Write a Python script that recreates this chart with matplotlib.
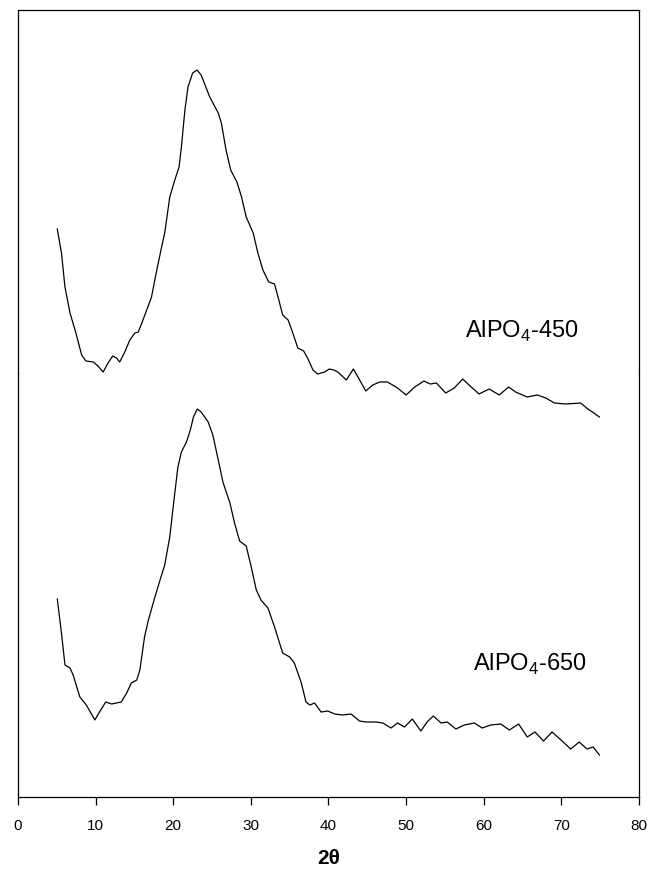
import numpy as np
import matplotlib
matplotlib.use("Agg")
import matplotlib.pyplot as plt

plt.rcParams['font.family'] = ['Liberation Sans', 'DejaVu Sans']
plt.rcParams['mathtext.fontset'] = 'custom'
plt.rcParams['mathtext.rm'] = 'Liberation Sans'

# AlPO4-450 pattern (2theta, intensity a.u.)
two_theta_450 = [5.06, 5.6, 6.05, 6.7, 7.46, 8.2, 8.75, 9.7, 10.3, 10.97, 11.6, 12.2, 12.7, 13.1,
                 13.76, 14.4, 15.05, 15.5, 16.1, 17.2, 17.8, 18.5, 18.9, 19.55, 20.2, 20.75, 21.05,
                 21.5, 21.9, 22.5, 23.06, 23.6, 24.7, 25.8, 26.2, 26.8, 27.4, 28.2, 28.8, 29.4, 30.3,
                 30.9, 31.55, 32.3, 33.05, 33.5, 34.1, 34.8, 35.4, 36.05, 36.8, 37.3, 38.0, 38.6,
                 39.5, 40.1, 40.7, 41.2, 42.3, 43.2, 43.8, 44.8, 45.7, 46.6, 47.6, 48.9, 50.0, 51.1,
                 52.3, 53.1, 53.9, 55.1, 56.2, 57.3, 58.1, 59.4, 60.7, 62.0, 63.2, 64.1, 65.6, 66.9,
                 68.0, 69.1, 70.6, 72.5, 73.4, 74.0, 74.9]
intensity_450 = [201, 177, 143, 117, 97, 75, 69, 68, 64, 58, 67, 74, 72, 68,
                 78, 90, 97, 98, 110, 133, 157, 183, 197, 233, 250, 263, 283,
                 320, 343, 357, 360, 355, 333, 317, 307, 280, 260, 248, 233, 213, 197,
                 177, 160, 148, 146, 133, 115, 110, 97, 82, 79, 72, 60, 56,
                 58, 61, 60, 58, 50, 61, 53, 39, 45, 48, 48, 42, 35, 43,
                 49, 46, 47, 37, 42, 51, 45, 36, 41, 35, 43, 38, 33, 35,
                 32, 27, 26, 27, 21, 18, 13]

# AlPO4-650 pattern
two_theta_650 = [5.06, 5.6, 6.05, 6.7, 7.1, 7.97, 8.8, 9.9, 10.5, 11.3, 12.05, 13.3, 14.0, 14.6,
                 15.3, 15.7, 16.3, 16.8, 17.6, 18.3, 18.9, 19.55, 20.2, 20.6, 21.05, 21.7, 22.2,
                 22.6, 23.1, 23.6, 24.5, 25.1, 25.8, 26.4, 27.3, 27.9, 28.55, 29.4, 30.05, 30.7,
                 31.3, 32.2, 33.05, 34.1, 35.0, 35.6, 36.5, 37.1, 37.6, 38.2, 39.05, 39.9, 40.8,
                 41.8, 42.9, 44.0, 44.8, 46.1, 47.0, 48.05, 48.9, 49.8, 50.8, 51.9, 52.7, 53.5,
                 54.5, 55.3, 56.4, 57.5, 58.8, 59.8, 60.9, 62.2, 63.3, 64.5, 65.6, 66.6, 67.7,
                 68.8, 70.1, 71.2, 72.3, 73.3, 74.1, 74.9]
intensity_650 = [198, 164, 132, 129, 122, 100, 92, 77, 85, 95, 93, 95, 104, 114,
                 117, 127, 160, 177, 199, 217, 232, 260, 304, 330, 345, 355, 367,
                 380, 388, 385, 375, 362, 337, 315, 294, 274, 256, 251, 230, 207,
                 197, 189, 170, 144, 140, 134, 114, 95, 92, 94, 85, 86, 83,
                 82, 83, 76, 75, 75, 74, 69, 74, 70, 78, 66, 75, 81,
                 74, 75, 68, 72, 74, 69, 72, 73, 67, 73, 60, 65, 56,
                 65, 56, 48, 55, 48, 50, 42]

x_ticks = [0, 10, 20, 30, 40, 50, 60, 70, 80]

fig = plt.figure(figsize=(6.51, 8.75), dpi=100)
ax_top = fig.add_axes([0.02765, 0.57371, 0.9539, 0.41486])
ax_bot = fig.add_axes([0.02765, 0.08914, 0.9539, 0.48457])

for ax in (ax_top, ax_bot):
    ax.set_xlim(0, 80)
    ax.set_yticks([])
    ax.set_facecolor('none')
    for sp in ax.spines.values():
        sp.set_linewidth(0.9)
        sp.set_color('black')

#top panel, open at the bottom
ax_top.set_ylim(57, 420)
ax_top.spines['bottom'].set_visible(False)
ax_top.set_xticks([])
ax_top.plot(two_theta_450, intensity_450, color='black', linewidth=0.9, clip_on=False)
ax_top.text(57.6, 92, 'AlPO$_\\mathregular{4}$-450', fontsize=17, ha='left', va='baseline')

#bottom panel
ax_bot.set_ylim(0, 424)
ax_bot.spines['top'].set_visible(False)
ax_bot.set_xticks(x_ticks)
ax_bot.tick_params(axis='x', direction='out', length=5.5, width=0.9, labelsize=11, pad=10)
ax_bot.plot(two_theta_650, intensity_650, color='black', linewidth=0.9)
ax_bot.text(58.6, 126, 'AlPO$_\\mathregular{4}$-650', fontsize=17, ha='left', va='baseline')
ax_bot.set_xlabel('2θ', fontsize=15, fontweight='bold', labelpad=12)

plt.savefig('out.png', dpi=100)
